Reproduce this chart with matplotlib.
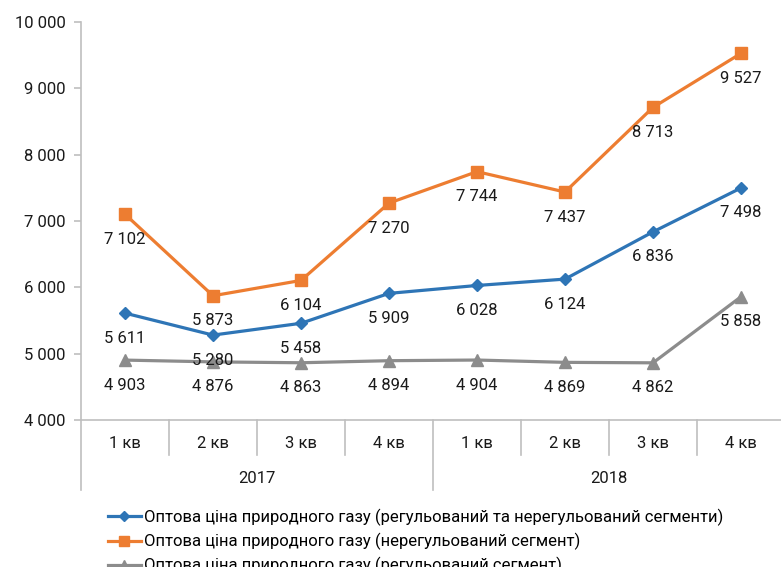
import matplotlib
matplotlib.use("Agg")
import matplotlib.pyplot as plt
from matplotlib.lines import Line2D

plt.rcParams['font.family'] = ['Roboto', 'DejaVu Sans']

quarters = ["1 кв", "2 кв", "3 кв", "4 кв", "1 кв", "2 кв", "3 кв", "4 кв"]
years = ["2017", "2018"]
total = [5611, 5280, 5458, 5909, 6028, 6124, 6836, 7498]
unregulated = [7102, 5873, 6104, 7270, 7744, 7437, 8713, 9527]
regulated = [4903, 4876, 4863, 4894, 4904, 4869, 4862, 5858]

names = [
    "Оптова ціна природного газу (регульований та нерегульований сегменти)",
    "Оптова ціна природного газу (нерегульований сегмент)",
    "Оптова ціна природного газу (регульований сегмент)",
]
colors = ["#2E75B6", "#ED7D31", "#8C8C8C"]
markers = ["D", "s", "^"]
msizes = [6, 8, 8]
fs = 12

def fmt(v):
    return f"{v:,}".replace(",", " ")

fig = plt.figure(figsize=(7.81, 5.67), dpi=100)
ax = fig.add_axes([81 / 781, 147 / 567, 704 / 781, 398 / 567])

x = list(range(len(quarters)))
for vals, c, m, ms in zip([total, unregulated, regulated], colors, markers, msizes):
    ax.plot(x, vals, color=c, lw=2.3, marker=m, markersize=ms)
    for xi, v in zip(x, vals):
        ax.annotate(fmt(v), (xi, v), xytext=(0, -18), textcoords="offset points",
                    ha="center", va="center", fontsize=fs, color="#1a1a1a")

ax.set_xlim(-0.5, 7.5)
ax.set_ylim(4000, 10000)
ax.set_yticks(range(4000, 10001, 1000))
ax.set_yticklabels([fmt(v) for v in range(4000, 10001, 1000)], fontsize=fs)
ax.set_xticks([])
for s in ["top", "right"]:
    ax.spines[s].set_visible(False)
for s in ["left", "bottom"]:
    ax.spines[s].set_color("#BFBFBF")
    ax.spines[s].set_linewidth(1.2)
ax.tick_params(axis="y", colors="#BFBFBF", labelcolor="#1a1a1a", length=5, width=1.2, pad=6)

# two-level category axis
tr = ax.get_xaxis_transform()
for i in range(len(quarters) + 1):
    xb = i - 0.5
    low = -0.176 if i % 4 == 0 else -0.088
    ax.add_line(Line2D([xb, xb], [0, low], transform=tr, color="#BFBFBF", lw=1.2, clip_on=False))
for i, q in enumerate(quarters):
    ax.text(i, -0.058, q, transform=tr, ha="center", va="center", fontsize=fs, color="#1a1a1a")
for j, y in enumerate(years):
    ax.text(1.5 + 4 * j, -0.146, y, transform=tr, ha="center", va="center", fontsize=fs, color="#1a1a1a")

handles = [Line2D([], [], color=c, lw=2.3, marker=m, markersize=ms - 1)
           for c, m, ms in zip(colors, markers, msizes)]
fig.legend(handles, names, loc="upper left", bbox_to_anchor=(101 / 781, 1 - 502 / 567),
           frameon=False, fontsize=fs, handlelength=2.0, handletextpad=0.2,
           labelspacing=0.42, borderaxespad=0)

fig.savefig("out.png", dpi=100)
